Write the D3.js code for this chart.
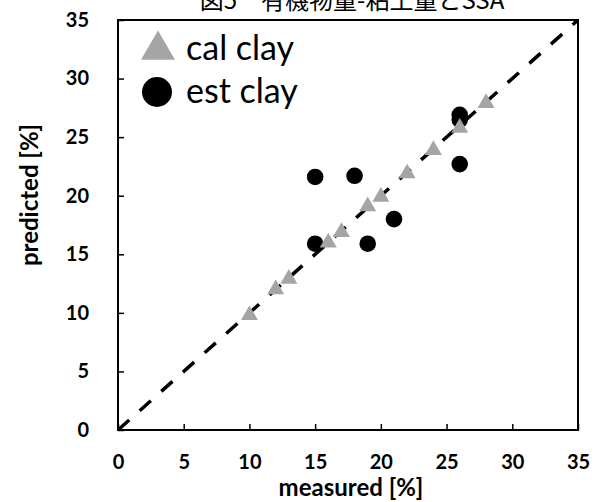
<!DOCTYPE html>
<html lang="ja">
<head>
<meta charset="utf-8">
<title>measured vs predicted clay</title>
<script src="https://d3js.org/d3.v7.min.js"></script>
<style>
  body { margin: 0; background: #fff; }
  .tick text { font-family: Lato, "Liberation Sans", sans-serif; font-weight: bold; font-size: 20px; fill: #000; }
  .tick line { stroke: #000; stroke-width: 1.5; }
  .axis-title { font-family: Lato, "Liberation Sans", sans-serif; font-weight: bold; font-size: 24px; }
  .legend-text { font-family: Lato, "Liberation Sans", sans-serif; font-size: 34px; }
</style>
</head>
<body>
<script>
// calibration clay (triangles)
const calMeasured  = [10, 12, 13, 16, 17, 19, 20, 22, 24, 26, 28];
const calPredicted = [9.8, 12.0, 12.9, 16.0, 16.9, 19.1, 19.9, 21.9, 23.9, 25.8, 27.9];
// estimated clay (circles)
const estMeasured  = [15, 18, 15, 19, 21, 26, 26, 26];
const estPredicted = [21.6, 21.7, 15.9, 15.9, 18.0, 26.9, 26.5, 22.7];
const ticks = [0, 5, 10, 15, 20, 25, 30, 35];
const titleText = "図5　有機物量-粘土量とSSA";

const width = 596, height = 502;
const margin = { top: 20, right: 18, bottom: 72, left: 118 };

const svg = d3.select("body").append("svg")
  .attr("width", width)
  .attr("height", height);

const x = d3.scaleLinear().domain([0, 35]).range([margin.left, width - margin.right]);
const y = d3.scaleLinear().domain([0, 35]).range([height - margin.bottom, margin.top]);

// title (cut off at the top in the original)
svg.append("text")
  .attr("x", 352)
  .attr("y", 9)
  .attr("text-anchor", "middle")
  .style("font-family", "'Noto Sans CJK JP', sans-serif")
  .style("font-size", "24px")
  .text(titleText);

// 1:1 line
svg.append("line")
  .attr("x1", x(0)).attr("y1", y(0))
  .attr("x2", x(35)).attr("y2", y(35))
  .attr("stroke", "#000")
  .attr("stroke-width", 3.5)
  .attr("stroke-dasharray", "15,14");

// axes, ticks pointing inward
svg.append("g")
  .attr("transform", `translate(0,${y(0)})`)
  .call(d3.axisBottom(x).tickValues(ticks).tickSizeInner(-6).tickSizeOuter(0).tickPadding(25))
  .call(g => g.select(".domain").remove());

svg.append("g")
  .attr("transform", `translate(${x(0)},0)`)
  .call(d3.axisLeft(y).tickValues(ticks).tickSizeInner(-6).tickSizeOuter(0).tickPadding(29))
  .call(g => g.select(".domain").remove());

// frame
svg.append("rect")
  .attr("x", x(0)).attr("y", y(35))
  .attr("width", x(35) - x(0))
  .attr("height", y(0) - y(35))
  .attr("fill", "none")
  .attr("stroke", "#000")
  .attr("stroke-width", 2);

// est clay circles
svg.append("g").selectAll("circle")
  .data(estMeasured.map((m, i) => [m, estPredicted[i]]))
  .join("circle")
  .attr("cx", d => x(d[0]))
  .attr("cy", d => y(d[1]))
  .attr("r", 8.3)
  .attr("fill", "#000");

// cal clay triangles
const tri = d3.symbol().type(d3.symbolTriangle).size(125);
svg.append("g").selectAll("path")
  .data(calMeasured.map((m, i) => [m, calPredicted[i]]))
  .join("path")
  .attr("d", tri)
  .attr("transform", d => `translate(${x(d[0])},${y(d[1])})`)
  .attr("fill", "#a5a5a5");

// legend
svg.append("path")
  .attr("d", d3.symbol().type(d3.symbolTriangle).size(500))
  .attr("transform", "translate(158,50)")
  .attr("fill", "#a5a5a5");
svg.append("text").attr("class", "legend-text").attr("x", 186).attr("y", 60).text("cal clay");

svg.append("circle").attr("cx", 157).attr("cy", 92).attr("r", 15).attr("fill", "#000");
svg.append("text").attr("class", "legend-text").attr("x", 186).attr("y", 103).text("est clay");

// axis titles
svg.append("text")
  .attr("class", "axis-title")
  .attr("x", 351)
  .attr("y", 496)
  .attr("text-anchor", "middle")
  .text("measured [%]");

svg.append("text")
  .attr("class", "axis-title")
  .attr("transform", "translate(38,195) rotate(-90)")
  .attr("text-anchor", "middle")
  .text("predicted [%]");
</script>
</body>
</html>
